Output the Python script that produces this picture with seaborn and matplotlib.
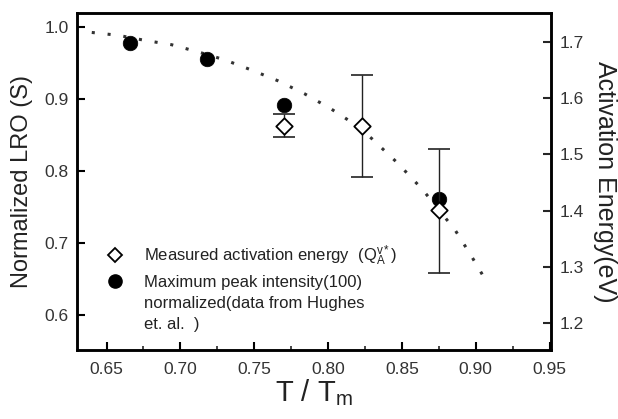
import numpy as np
import matplotlib
matplotlib.use('Agg')
import matplotlib.pyplot as plt
from matplotlib.lines import Line2D
from matplotlib.ticker import MultipleLocator
import seaborn as sns

# Datos
lro_x = [0.666, 0.718, 0.770, 0.875]
lro_y = [0.977, 0.955, 0.891, 0.761]

ea_x = [0.770, 0.823, 0.875]
ea_y = [1.550, 1.550, 1.401]
ea_err_low = [0.019, 0.090, 0.112]
ea_err_high = [0.022, 0.091, 0.109]

curve_x = [0.640, 0.658, 0.676, 0.694, 0.712, 0.730, 0.748, 0.766, 0.784, 0.802,
           0.820, 0.830, 0.847, 0.864, 0.886, 0.897, 0.908]
curve_y = [0.992, 0.988, 0.981, 0.975, 0.965, 0.954, 0.940, 0.925, 0.907, 0.886,
           0.862, 0.844, 0.811, 0.774, 0.718, 0.682, 0.644]

legend_labels = [r'Measured activation energy  (Q$_\mathregular{A}^\mathregular{v*}$)',
                 'Maximum peak intensity(100)',
                 'normalized(data from Hughes',
                 'et. al.  )']

sns.set_style('ticks')
plt.rcParams['font.family'] = ['Liberation Sans', 'DejaVu Sans']
plt.rcParams['mathtext.fontset'] = 'custom'
plt.rcParams['mathtext.rm'] = 'Liberation Sans'
plt.rcParams['mathtext.it'] = 'Liberation Sans'

fig = plt.figure(figsize=(6.18, 4.19), dpi=100)
ax = fig.add_axes([0.1246, 0.1647, 0.767, 0.8043])
ax2 = ax.twinx()

# Curva punteada y circulos (eje izquierdo)
sns.lineplot(x=curve_x, y=curve_y, ax=ax, color='#333333', lw=2.2,
             linestyle=(0, (1, 4.2)), sort=False)
sns.scatterplot(x=lro_x, y=lro_y, ax=ax, color='black', s=110, marker='o',
                edgecolor='black', linewidth=0.5, zorder=3)

# Energia de activacion con barras de error (eje derecho)
ax2.errorbar(ea_x, ea_y, yerr=[ea_err_low, ea_err_high], fmt='none',
             ecolor='#222222', elinewidth=1.0, capsize=8, capthick=1.2, zorder=2)
sns.scatterplot(x=ea_x, y=ea_y, ax=ax2, color='white', marker='D', s=70,
                edgecolor='black', linewidth=1.3, zorder=4)

ax.set_xlim(0.63, 0.951)
ax.set_ylim(0.5514, 1.019)
ax2.set_ylim(1.152, 1.7516)

ax.xaxis.set_major_locator(MultipleLocator(0.05))
ax.xaxis.set_minor_locator(MultipleLocator(0.025))
ax.set_yticks([0.6, 0.7, 0.8, 0.9, 1.0])
ax2.set_yticks([1.2, 1.3, 1.4, 1.5, 1.6, 1.7])
ax.xaxis.set_major_formatter(matplotlib.ticker.FormatStrFormatter('%.2f'))
ax.yaxis.set_major_formatter(matplotlib.ticker.FormatStrFormatter('%.1f'))
ax2.yaxis.set_major_formatter(matplotlib.ticker.FormatStrFormatter('%.1f'))

ax.tick_params(axis='both', which='major', direction='in', length=6, width=1.5,
               labelsize=12.5, colors='black', labelcolor='#333333')
ax.tick_params(axis='x', which='minor', direction='in', length=3, width=1.2)
ax.tick_params(axis='x', which='major', pad=9)
ax.tick_params(axis='y', pad=6)
ax2.tick_params(axis='y', which='major', direction='in', length=6, width=1.5,
                labelsize=12.5, labelcolor='#333333', pad=6)

for a in (ax, ax2):
    for sp in a.spines.values():
        sp.set_visible(True)
        sp.set_linewidth(1.8)
        sp.set_color('black')

ax.set_xlabel(r'T / T$_\mathregular{m}$', fontsize=21, color='#222222', labelpad=0)
ax.set_ylabel('Normalized LRO (S)', fontsize=17, color='#222222', labelpad=8)
ax2.set_ylabel('Activation Energy(eV)', fontsize=18, color='#222222',
               rotation=-90, labelpad=24)

blank = Line2D([], [], color='none')
handles = [
    Line2D([], [], marker='D', color='none', markerfacecolor='white',
           markeredgecolor='black', markeredgewidth=1.3, markersize=7),
    Line2D([], [], marker='o', color='none', markerfacecolor='black',
           markeredgecolor='black', markersize=9.5),
    blank, blank,
]
leg = ax2.legend(handles, legend_labels, loc='upper left', bbox_to_anchor=(0.06, 0.315),
                 frameon=False, fontsize=12, handlelength=1.2, handletextpad=1.1,
                 labelspacing=0.38, borderpad=0, borderaxespad=0)
for t in leg.get_texts():
    t.set_color('#222222')

plt.savefig('out.png', dpi=100)
